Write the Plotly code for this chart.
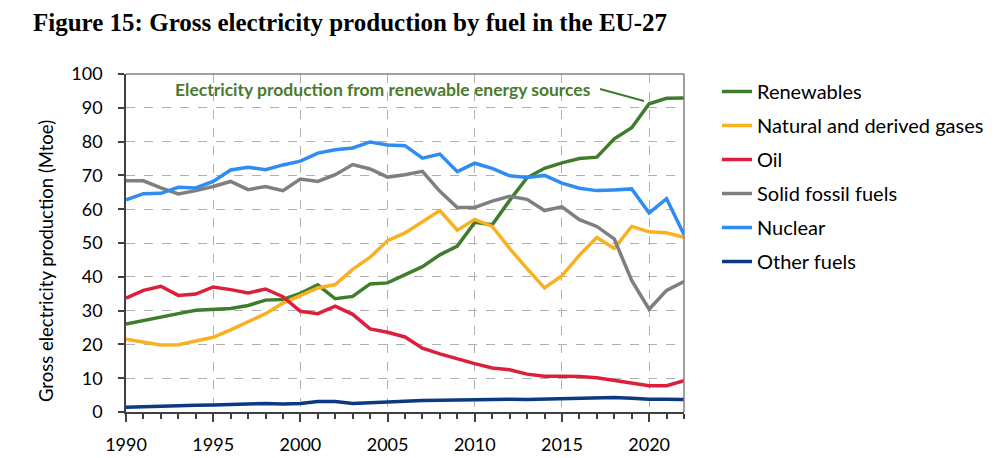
import plotly.graph_objects as go

years = list(range(1990, 2023))

renewables = [26.0, 27.1, 28.2, 29.1, 30.1, 30.3, 30.6, 31.5, 33.1, 33.3, 35.1, 37.6, 33.5, 34.2,
              37.9, 38.2, 40.5, 43.0, 46.5, 49.1, 56.1, 55.4, 62.6, 69.3, 72.1, 73.7, 75.0, 75.4,
              80.8, 84.1, 91.2, 92.8, 92.9]
gases = [21.5, 20.6, 19.8, 19.9, 20.9, 22.1, 24.3, 26.8, 29.1, 32.2, 34.5, 36.7, 37.7, 42.2,
         45.8, 50.7, 53.0, 56.4, 59.6, 53.8, 57.0, 54.9, 48.4, 42.4, 36.7, 40.3, 46.4, 51.6,
         48.4, 54.9, 53.3, 53.0, 51.7]
oil = [33.7, 36.0, 37.2, 34.5, 34.9, 37.0, 36.2, 35.2, 36.4, 34.1, 29.8, 29.1, 31.3, 28.9,
       24.6, 23.6, 22.2, 18.9, 17.2, 15.7, 14.3, 13.0, 12.5, 11.2, 10.6, 10.6, 10.5, 10.1,
       9.4, 8.6, 7.8, 7.8, 9.3]
solid = [68.4, 68.4, 66.3, 64.5, 65.5, 66.7, 68.2, 65.8, 66.7, 65.5, 68.9, 68.2, 70.2, 73.2,
         71.9, 69.5, 70.2, 71.2, 65.3, 60.5, 60.5, 62.4, 63.8, 62.9, 59.6, 60.7, 56.9, 54.9,
         51.2, 38.9, 30.4, 36.0, 38.6]
nuclear = [62.8, 64.6, 64.7, 66.5, 66.3, 68.2, 71.6, 72.4, 71.7, 73.1, 74.2, 76.6, 77.6, 78.1,
           79.9, 79.0, 78.8, 75.1, 76.3, 71.1, 73.6, 72.1, 69.9, 69.4, 70.0, 67.7, 66.2, 65.5,
           65.7, 66.0, 58.9, 63.1, 52.5]
other = [1.4, 1.6, 1.7, 1.8, 2.0, 2.1, 2.3, 2.4, 2.5, 2.4, 2.5, 3.1, 3.1, 2.5, 2.8, 2.9, 3.2,
         3.4, 3.5, 3.6, 3.8, 3.9, 3.8, 3.7, 3.8, 4.1, 4.2, 4.2, 4.3, 4.1, 3.8, 3.8, 3.7]

series_names = ["Renewables", "Natural and derived gases", "Oil", "Solid fossil fuels",
                "Nuclear", "Other fuels"]
series_values = [renewables, gases, oil, solid, nuclear, other]
series_colors = ["#3f7d2c", "#f9b122", "#dc1f3a", "#7f7f7f", "#2f8cf2", "#0c3a82"]

title_text = "Figure 15: Gross electricity production by fuel in the EU-27"
ytitle_text = "Gross electricity production (Mtoe)"
annot_text = "Electricity production from renewable energy sources"

FONT = "Lato"
OFF = 8  # page body margin offset

W, H = 1000, 458
# desired plot area in viewport px: x 126..684, y 74..412
L = 126 - OFF
T = 74 - OFF
pw = 684 - 126
ph = 412 - 74
R = W - L - pw
B = H - T - ph


def vx(px):
    return (px - OFF - L) / pw


def vy(py):
    return (T + ph - (py - OFF)) / ph


fig = go.Figure()
for name, vals, col in zip(series_names, series_values, series_colors):
    fig.add_trace(go.Scatter(x=years, y=vals, mode="lines", name=name, legendgroup=name,
                             line=dict(color=col, width=3.5)))

fig.update_layout(
    width=W, height=H,
    margin=dict(l=L, r=R, t=T, b=B),
    paper_bgcolor="white", plot_bgcolor="white",
    font=dict(family=FONT, size=17, color="black"),
    title=dict(text=title_text, xref="container", yref="container",
               x=25 / W, xanchor="left", y=1 - (22 - OFF) / H, yanchor="middle",
               font=dict(family="Liberation Serif", size=25, color="black", weight="bold")),
    showlegend=True,
    legend=dict(x=vx(717), y=vy(72), xanchor="left", yanchor="top",
                xref="paper", yref="paper", font=dict(family=FONT, size=20, color="black"),
                tracegroupgap=5, traceorder="grouped", itemwidth=30,
                bgcolor="rgba(0,0,0,0)"),
    xaxis=dict(range=[1990, 2022], tickmode="linear", tick0=1990, dtick=5,
               showgrid=True, gridcolor="#b0b0b0", griddash="dash", gridwidth=1,
               showline=True, linecolor="#404040", linewidth=1.5,
               ticks="outside", ticklen=8, tickcolor="#404040", tickwidth=1.5,
               ticklabelstandoff=8,
               minor=dict(ticks="outside", dtick=1, ticklen=5, tickcolor="#404040",
                          showgrid=False),
               tickfont=dict(family=FONT, size=18, color="black"), zeroline=False),
    yaxis=dict(range=[0, 100], tickmode="linear", tick0=0, dtick=10,
               showgrid=True, gridcolor="#b0b0b0", griddash="dash", gridwidth=1,
               showline=True, linecolor="#404040", linewidth=1.5,
               ticks="outside", ticklen=6, tickcolor="#404040", tickwidth=1.5,
               ticklabelstandoff=12,
               tickfont=dict(family=FONT, size=18, color="black"), zeroline=False),
)

# gray frame on top and right
fig.add_shape(type="line", xref="paper", yref="paper", x0=0, x1=1, y0=1, y1=1,
              line=dict(color="#808080", width=1.5))
fig.add_shape(type="line", xref="paper", yref="paper", x0=1, x1=1, y0=0, y1=1,
              line=dict(color="#808080", width=1.5))

# y-axis title
fig.add_annotation(text=ytitle_text, xref="paper", yref="paper",
                   x=vx(46), y=vy(261), xanchor="center", yanchor="middle",
                   textangle=-90, showarrow=False, font=dict(family=FONT, size=18.5, color="black"))

# renewable annotation
fig.add_annotation(text=annot_text, xref="paper", yref="paper",
                   x=vx(593), y=vy(89), xanchor="right", yanchor="middle",
                   showarrow=False, font=dict(family=FONT, size=17.5, color="#4a7a2e", weight="bold"))
fig.add_shape(type="line", xref="paper", yref="paper",
              x0=vx(600), y0=vy(89), x1=vx(644), y1=vy(101),
              line=dict(color="#3f7d2c", width=2))

fig.write_html("out.html")
